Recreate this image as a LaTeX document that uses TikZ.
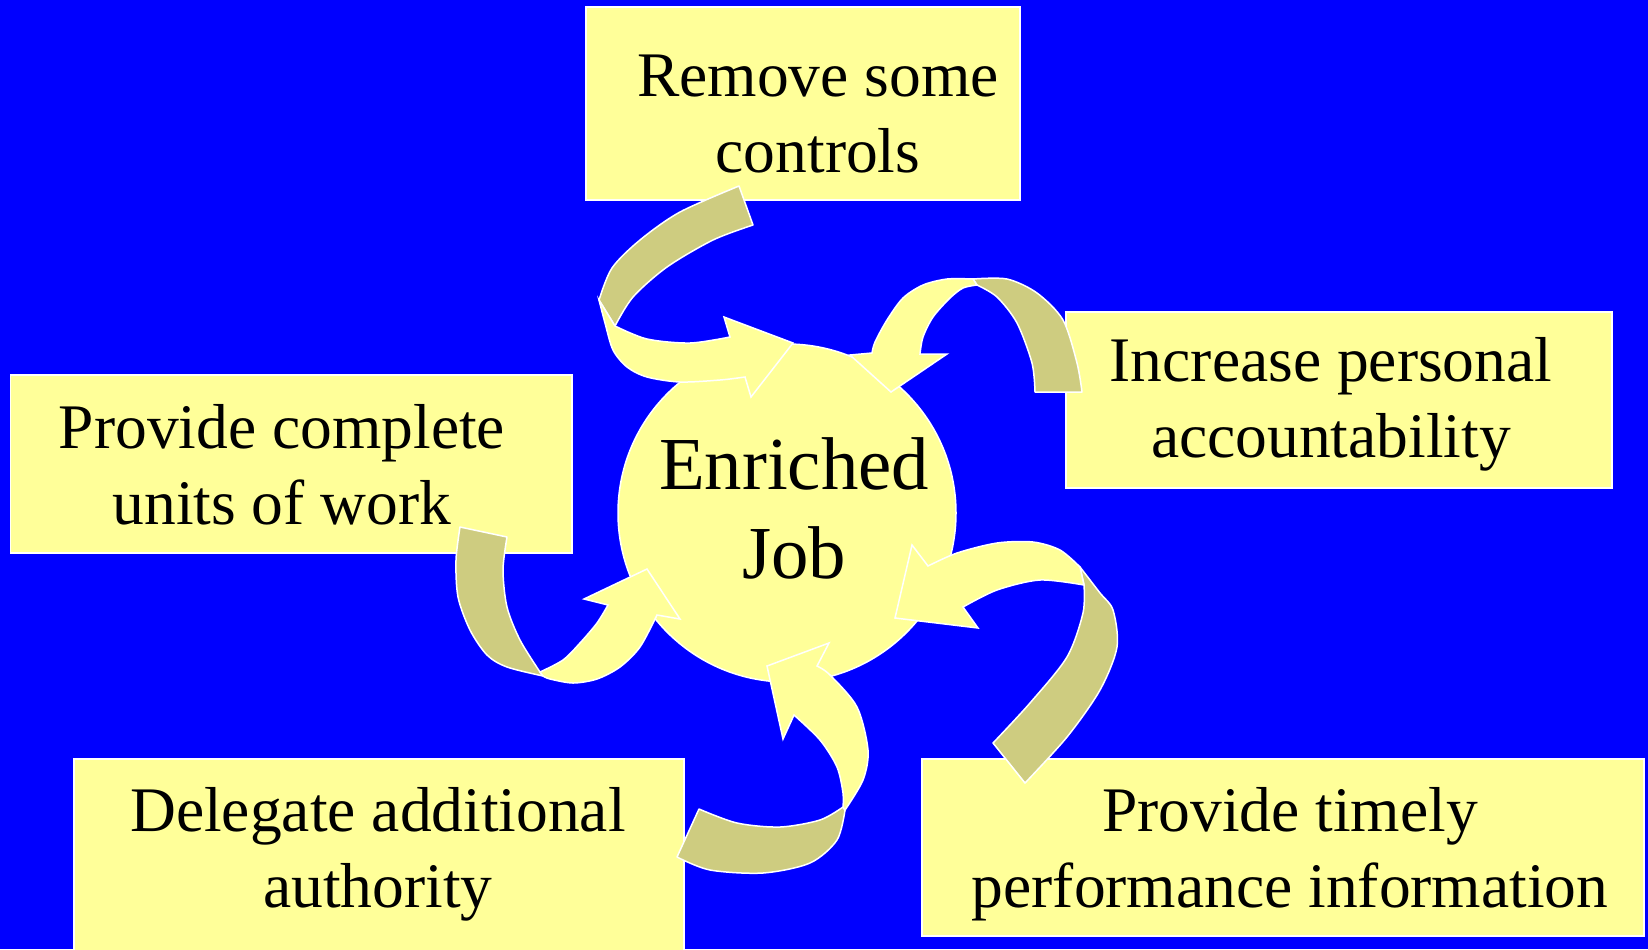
\documentclass[tikz,border=0pt]{standalone}
\usepackage{fontspec}
\setmainfont{Liberation Serif}
\definecolor{bgblue}{RGB}{0,0,255}
\definecolor{pale}{RGB}{255,255,153}
\definecolor{khaki}{RGB}{206,204,128}

\begin{document}
\begin{tikzpicture}[x=0.5pt, y=-0.5pt,
  box/.style={draw=white, line width=0.75pt, fill=pale, inner sep=0},
  txt/.style={font=\fontsize{31.75}{38}\selectfont, align=center, anchor=base, inner sep=0},
  back/.style={draw=white, line width=0.75pt, fill=khaki, line join=round},
  front/.style={draw=white, line width=0.75pt, fill=pale}]
\fill[bgblue] (0,0) rectangle (1648,949);
\useasboundingbox (0,0) rectangle (1648,949);

% the five boxes
\node[box, minimum width=217pt, minimum height=96.5pt] (ctrl) at (803,103.5) {};
\node[box, minimum width=273pt, minimum height=88pt] (acct) at (1339,400) {};
\node[box, minimum width=280.75pt, minimum height=89pt] (units) at (291.25,464) {};
\node[box, minimum width=305pt, minimum height=96.5pt] (auth) at (379,855.5) {};
\node[box, minimum width=361pt, minimum height=88.5pt] (info) at (1283,847.5) {};

% their texts, placed on the last baseline
\node[txt] (ctrl-t) at (818,172) {Remove some\\controls};
\node[txt] (acct-t) at (1331,457) {Increase personal\\accountability};
\node[txt] (units-t) at (282,524) {Provide complete\\units of work};
\node[txt] (auth-t) at (378,907) {Delegate additional\\authority};
\node[txt] (info-t) at (1290,907) {Provide timely\\performance information};

% centre
\node[box, circle, minimum size=169pt] (job) at (787,513) {};
\node[txt, font=\fontsize{37.4}{44.5}\selectfont] (job-t) at (794,578) {Enriched\\Job};

% twisted arrows: back band, then front band with head
\filldraw[back] (739,186) -- (753,225)
  -- plot[smooth] coordinates {(753,225) (713,240) (667,267) (633,297) (615,326)}
  -- (599,300)
  -- plot[smooth] coordinates {(599,300) (612,268) (640,240) (680,212) (739,186)} -- cycle;
\filldraw[front] (599,300) -- (615,326)
  -- plot[smooth] coordinates {(615,326) (647,339) (690,343) (730,337)}
  -- (724,317) -- (793,343) -- (751,397) -- (745,377)
  -- plot[smooth] coordinates {(745,377) (720,380) (680,382) (647,377) (627,367) (613,350) (605,323) (599,300)} -- cycle;

\filldraw[back] (1035,392) -- (1082,392)
  -- plot[smooth] coordinates {(1082,392) (1077,363) (1063,320) (1037,293) (1007,279) (973,279)}
  -- (977,285)
  -- plot[smooth] coordinates {(977,285) (997,297) (1017,323) (1032,363) (1035,392)} -- cycle;
\filldraw[front] (973,279) -- (977,285)
  -- plot[smooth] coordinates {(977,285) (963,288) (950,298) (933,317) (923,337) (920,354)}
  -- (947,354) -- (891,392) -- (850,355) -- (872,353)
  -- plot[smooth] coordinates {(872,353) (875,342) (887,320) (903,298) (923,285) (947,279) (973,279)} -- cycle;

\filldraw[back] (460,527) -- (507,537)
  -- plot[smooth] coordinates {(507,537) (503,570) (507,607) (520,640) (540,672)}
  -- plot[smooth] coordinates {(543,676) (507,667) (487,655) (470,630) (458,597) (456,560) (460,527)} -- cycle;
\filldraw[front] (540,672)
  -- plot[smooth] coordinates {(540,672) (563,660) (580,643) (597,623) (608,605)}
  -- (584,599) -- (647,569) -- (680,619) -- (657,615)
  -- plot[smooth] coordinates {(657,615) (640,647) (620,667) (597,679) (573,683) (550,679) (543,676)} -- cycle;

\filldraw[back] (677,857) -- (699,809)
  -- plot[smooth] coordinates {(699,809) (737,823) (780,827) (820,820) (843,807)}
  -- (845,810)
  -- plot[smooth] coordinates {(845,810) (837,840) (810,863) (763,873) (710,870) (677,857)} -- cycle;
\filldraw[front] (843,807)
  -- plot[smooth] coordinates {(843,807) (843,793) (837,767) (820,740) (794,715)}
  -- (783,739) -- (767,666) -- (829,643) -- (817,666)
  -- plot[smooth] coordinates {(817,666) (830,675) (857,707) (868,750) (863,780) (845,810)} -- cycle;

\filldraw[back] (993,743) -- (1025,783)
  -- plot[smooth] coordinates {(1025,783) (1067,737) (1100,690) (1117,647) (1113,610) (1100,593) (1080,567)}
  -- (1084,585)
  -- plot[smooth] coordinates {(1084,585) (1083,613) (1067,657) (1030,703) (993,743)} -- cycle;
\filldraw[front] (1080,567) -- (1084,585)
  -- plot[smooth] coordinates {(1084,585) (1040,580) (997,590) (963,607)}
  -- (978,628) -- (895,618) -- (912,545) -- (928,566)
  -- plot[smooth] coordinates {(928,566) (957,553) (997,543) (1033,542) (1060,550) (1080,567)} -- cycle;
\end{tikzpicture}
\end{document}
